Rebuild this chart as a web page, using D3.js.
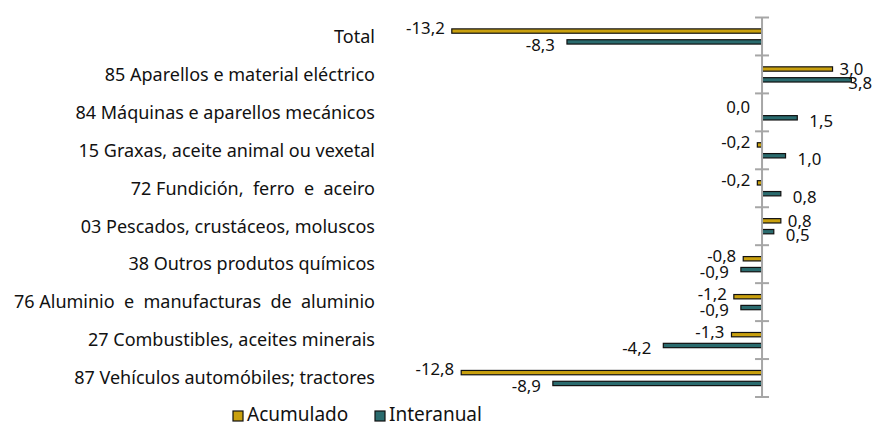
<!DOCTYPE html>
<html><head><meta charset="utf-8">
<script src="https://cdn.jsdelivr.net/npm/d3@7"></script>
<style>
body{margin:0;background:#fff;}
text{font-family:"Noto Sans",sans-serif;fill:#111;}
</style></head>
<body><svg id="c" width="873" height="426"></svg>
<script>
const categories = ["Total","85 Aparellos e material eléctrico","84 Máquinas e aparellos mecánicos","15 Graxas, aceite animal ou vexetal","72 Fundición,  ferro  e  aceiro","03 Pescados, crustáceos, moluscos","38 Outros produtos químicos","76 Aluminio  e  manufacturas  de  aluminio","27 Combustibles, aceites minerais","87 Vehículos automóbiles; tractores"];
const acumulado = [-13.2,3.0,0.0,-0.2,-0.2,0.8,-0.8,-1.2,-1.3,-12.8];
const interanual = [-8.3,3.8,1.5,1.0,0.8,0.5,-0.9,-0.9,-4.2,-8.9];
const seriesNames = ["Acumulado","Interanual"];
const colors = ["#C9A00E","#2A6B6E"];

const W = 873;
const svg = d3.select("#c");
const x = d3.scaleLinear().domain([-14,4.7]).range([433,872.5]);
const y = d3.scaleBand().domain(categories).range([17.5,397]);
const sub = d3.scaleBand().domain(seriesNames).range([0,y.bandwidth()]).paddingInner(0.6).paddingOuter(1.05);
const fmt = v => d3.format(".1f")(v).replace(".",",").replace("−","-");

const series = [acumulado, interanual];
series.forEach((vals,si)=>{
  const g = svg.append("g");
  g.selectAll("rect").data(vals).join("rect")
    .attr("x",d=>x(Math.min(0,d)))
    .attr("width",d=>Math.abs(x(d)-x(0)))
    .attr("y",(d,i)=>y(categories[i])+sub(seriesNames[si]))
    .attr("height",sub.bandwidth())
    .attr("fill",colors[si]).attr("stroke","#111").attr("stroke-width",1.2);
  const gap = si===0?7:12;
  g.selectAll("text").data(vals).join("text")
    .attr("y",(d,i)=>y(categories[i])+sub(seriesNames[si])+sub.bandwidth()/2 + (si===0?(d<0?-3:0):3))
    .attr("dy","0.35em")
    .attr("text-anchor",d=>d>0?"start":"end")
    .style("font-size","16.8px")
    .text(d=>fmt(d))
    .attr("x",function(d){
      if(d>0){
        const w = this.getComputedTextLength();
        return Math.min(x(d)+gap, W-1-w);
      }
      return x(Math.min(d,0))-gap-(d===0?5:0);
    });
});

// axis
const ax = svg.append("g").attr("transform",`translate(${x(0)},0)`)
  .call(d3.axisLeft(y).tickSize(0).tickFormat(""));
ax.select(".domain").attr("stroke","#A6A6A6").attr("stroke-width",2).attr("d",`M0,${y.range()[0]}V${y.range()[1]}`);
const bounds = categories.map(c=>y(c)).concat([y.range()[1]]);
svg.append("g").selectAll("line").data(bounds).join("line")
  .attr("x1",x(0)-7).attr("x2",x(0)+7)
  .attr("y1",d=>d).attr("y2",d=>d)
  .attr("stroke","#A6A6A6").attr("stroke-width",2);

// category labels
svg.append("g").selectAll("text").data(categories).join("text")
  .attr("x",375).attr("y",d=>y(d)+y.bandwidth()/2)
  .attr("dy","0.35em").attr("text-anchor","end")
  .style("font-size","18px").style("white-space","pre")
  .text(d=>d);

// legend
const leg = svg.append("g");
const legX = [233,375];
seriesNames.forEach((n,i)=>{
  leg.append("rect").attr("x",legX[i]).attr("y",411).attr("width",10).attr("height",10)
    .attr("fill",colors[i]).attr("stroke","#111").attr("stroke-width",1.2);
  leg.append("text").attr("x",legX[i]+14).attr("y",414.5).attr("dy","0.35em")
    .style("font-size","19px").text(n);
});
</script></body></html>
